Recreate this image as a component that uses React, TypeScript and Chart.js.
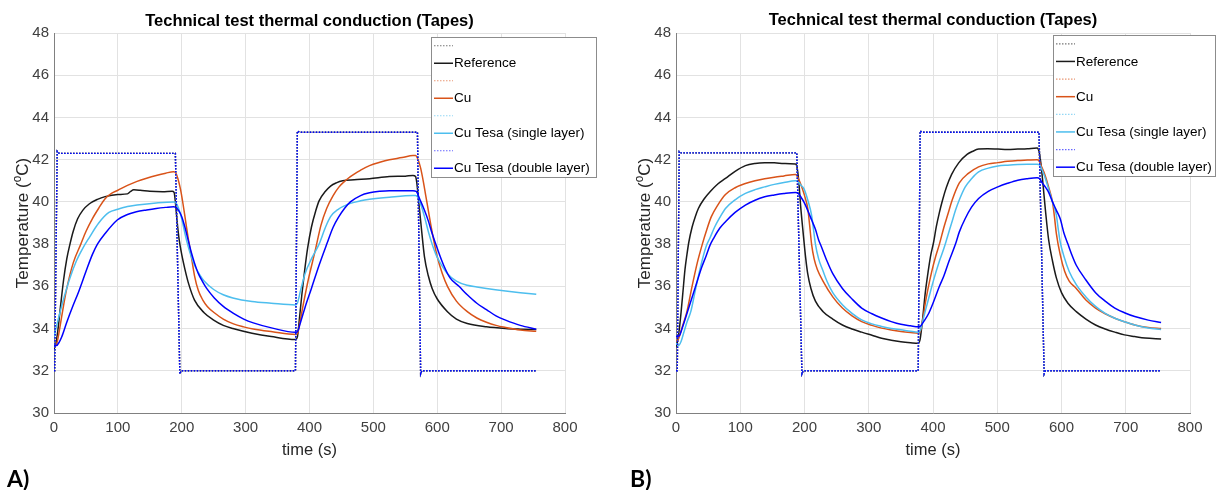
import React, { useEffect, useRef } from "react";
import { Chart, registerables } from "chart.js";
Chart.register(...registerables);

const FONT = "'Liberation Sans', Arial, sans-serif";
const TITLE = "Technical test thermal conduction (Tapes)";
const X_LABEL = "time (s)";
const LEGEND_LABELS = ["", "Reference", "", "Cu", "", "Cu Tesa (single layer)", "", "Cu Tesa (double layer)"];
const SERIES_COLORS = ["#1a1a1a", "#D95319", "#4DBEEE", "#0000FF"];
const X_MIN = 0, X_MAX = 800, X_STEP = 100;
const Y_MIN = 30, Y_MAX = 48, Y_STEP = 2;

// ---------- Panel A ----------
const tSqA = [0, 1, 5, 8, 188, 190, 197, 199, 378, 381, 384, 567, 569, 574, 576, 755];
const vSqA = [32, 32, 42.4, 42.3, 42.3, 42.3, 31.85, 32, 32, 43.35, 43.3, 43.3, 43.3, 31.85, 32, 32];

const tRefA = [0,3,6,10,15,20,25,30,37,45,55,68,80,100,115,120,125,135,150,170,185,188,190,193,196,200,205,210,220,235,250,265,280,310,340,378,381,384,388,393,397,403,410,415,425,433,442,452,470,494,525,550,562,566,568,571,575,580,586,592,600,616,630,647,677,707,730,755];
const vRefA = [33.0,33.3,33.9,35.0,36.3,37.3,38.0,38.6,39.2,39.6,39.9,40.12,40.25,40.35,40.38,40.5,40.57,40.55,40.5,40.48,40.5,40.45,40.0,39.0,38.2,37.5,36.8,36.2,35.35,34.75,34.4,34.15,34.0,33.78,33.62,33.48,33.6,34.4,35.6,36.9,37.8,38.8,39.6,40.05,40.5,40.75,40.9,41.0,41.05,41.1,41.2,41.22,41.25,41.2,40.9,40.0,38.8,37.4,36.5,35.9,35.4,34.8,34.45,34.24,34.08,34.0,33.97,33.95];

const tCuA = [0,3,6,10,15,20,30,42,50,60,70,80,90,100,115,130,145,160,175,187,190,194,198,202,206,210,214,220,226,233,240,251,265,281,297,312,342,378,381,385,390,398,409,418,427,437,446,456,464,480,494,510,525,545,562,566,570,574,578,582,586,590,595,600,608,616,630,647,662,677,692,707,730,755];
const vCuA = [33.2,33.2,33.5,34.2,35.1,35.9,37.1,38.0,38.6,39.2,39.7,40.15,40.4,40.55,40.78,40.97,41.12,41.25,41.36,41.43,41.4,41.1,40.6,39.9,39.1,38.3,37.6,36.5,35.8,35.35,35.05,34.75,34.45,34.22,34.08,33.98,33.85,33.72,33.75,34.3,35.1,36.3,37.7,38.9,39.7,40.3,40.7,41.0,41.2,41.5,41.72,41.88,42.0,42.1,42.2,42.2,42.0,41.6,41.0,40.3,39.6,38.9,38.1,37.4,36.6,36.0,35.3,34.8,34.5,34.3,34.15,34.05,33.93,33.87];

const tSingleA = [0,3,8,15,25,35,45,55,70,86,100,115,130,160,187,190,195,200,205,210,215,220,228,235,250,265,280,310,340,378,381,386,393,403,415,425,433,445,464,480,494,525,562,566,570,575,580,586,592,598,604,616,630,647,662,677,707,730,755];
const vSingleA = [33.6,34.0,34.6,35.4,36.4,37.2,37.8,38.3,39.0,39.5,39.65,39.78,39.85,39.95,40.0,39.98,39.7,39.2,38.5,37.9,37.4,37.0,36.55,36.25,35.85,35.6,35.45,35.28,35.2,35.12,35.2,35.8,36.6,37.3,38.0,38.8,39.3,39.65,39.93,40.05,40.12,40.22,40.3,40.3,40.2,39.8,39.3,38.6,38.0,37.5,37.15,36.6,36.25,36.05,35.97,35.9,35.78,35.7,35.62];

const tDoubleA = [0,4,8,12,20,30,38,50,60,68,80,99,115,129,145,160,175,187,190,195,200,205,210,215,220,226,233,239,251,265,281,297,312,342,378,381,386,393,403,415,427,437,446,455,464,480,494,510,525,562,567,573,580,586,592,600,610,620,634,647,662,677,692,707,730,755];
const vDoubleA = [33.2,33.2,33.35,33.6,34.3,35.1,35.7,36.7,37.5,38.0,38.5,39.14,39.4,39.53,39.62,39.69,39.74,39.77,39.75,39.6,39.3,38.8,38.2,37.6,37.1,36.6,36.2,35.9,35.45,35.05,34.72,34.45,34.27,34.02,33.82,33.85,34.3,35.0,35.9,37.0,38.0,38.8,39.3,39.7,40.0,40.3,40.43,40.5,40.53,40.53,40.5,40.1,39.6,39.1,38.5,37.8,37.0,36.4,36.0,35.6,35.2,34.9,34.6,34.4,34.15,33.97];

// ---------- Panel B ----------
const tSqB = [0, 2, 5, 8, 186, 188, 196, 198, 377, 380, 383, 563, 565, 573, 575, 755];
const vSqB = [32, 32, 42.38, 42.32, 42.32, 42.32, 31.85, 32, 32, 43.36, 43.3, 43.3, 43.3, 31.85, 32, 32];

const tRefB = [0,3,6,8,11,14,17,20,25,30,35,44,53,65,77,92,108,123,138,153,168,186,188,191,194,198,202,205,210,217,229,244,259,274,289,305,320,335,350,365,377,380,384,388,392,396,401,405,410,415,421,429,440,453,462,471,485,501,516,532,547,562,565,568,571,575,580,586,592,600,610,623,638,653,668,683,698,714,730,755];
const vRefB = [33.1,33.5,34.2,34.8,35.8,36.8,37.5,38.1,38.8,39.3,39.7,40.15,40.48,40.85,41.11,41.45,41.72,41.82,41.85,41.85,41.82,41.8,41.7,41.0,39.8,38.5,37.3,36.6,35.9,35.3,34.8,34.45,34.17,33.98,33.83,33.68,33.54,33.45,33.38,33.33,33.3,33.5,34.5,35.7,36.6,37.4,38.1,38.8,39.5,40.1,40.7,41.3,41.85,42.25,42.4,42.5,42.52,42.5,42.48,42.5,42.52,42.55,42.4,41.8,40.9,39.6,38.2,37.2,36.4,35.7,35.2,34.8,34.45,34.17,33.98,33.83,33.7,33.62,33.55,33.51];

const tCuB = [0,3,6,10,17,25,33,41,47,55,65,77,92,108,123,138,153,168,186,188,192,197,201,205,208,211,215,220,229,244,259,274,289,305,320,335,350,365,377,380,384,388,393,398,404,410,417,423,430,441,455,471,486,501,516,532,547,562,565,570,574,580,586,589,592,598,605,612,623,638,653,668,683,698,714,735,755];
const vCuB = [33.4,33.45,33.7,34.1,34.8,36.0,37.1,38.0,38.6,39.3,39.85,40.35,40.67,40.87,41.0,41.1,41.17,41.23,41.3,41.25,41.0,40.6,40.2,39.7,38.9,38.0,37.3,36.8,36.24,35.5,34.97,34.6,34.33,34.15,34.02,33.93,33.86,33.81,33.78,33.85,34.4,35.2,36.0,36.7,37.4,38.0,38.8,39.4,40.1,40.9,41.35,41.66,41.8,41.86,41.92,41.96,41.98,42.0,41.95,41.6,41.3,40.7,40.0,39.3,38.5,37.5,36.7,36.25,35.9,35.35,34.97,34.7,34.49,34.32,34.17,34.05,34.0];

const tSingleB = [0,4,8,12,17,23,30,38,47,53,60,68,77,92,108,123,138,153,168,186,189,194,199,205,211,214,217,222,228,235,244,259,274,289,305,320,335,350,365,377,380,386,393,400,410,417,423,429,435,441,450,460,471,486,501,516,532,547,562,566,570,575,580,586,592,595,598,604,612,623,638,653,668,683,698,714,735,755];
const vSingleB = [33.3,33.2,33.4,33.8,34.3,34.8,35.8,36.9,37.9,38.3,38.8,39.25,39.69,40.1,40.4,40.58,40.71,40.83,40.92,41.0,40.98,40.8,40.63,40.1,39.37,38.7,38.0,37.3,36.8,36.24,35.7,35.13,34.72,34.41,34.22,34.1,34.0,33.94,33.87,33.83,33.9,34.6,35.4,36.2,37.2,37.8,38.4,39.0,39.6,40.1,40.7,41.1,41.42,41.6,41.7,41.74,41.77,41.78,41.78,41.75,41.5,41.1,40.6,40.0,39.37,38.7,38.1,37.4,36.7,36.08,35.5,35.05,34.72,34.49,34.32,34.17,34.03,33.96];

const tDoubleB = [0,3,6,10,20,30,40,47,53,59,68,77,92,108,123,138,153,168,186,190,195,199,205,211,217,222,226,235,244,259,274,289,305,320,335,350,365,377,380,386,393,400,410,417,425,435,441,450,460,471,486,501,516,532,547,562,566,570,575,580,586,592,598,604,610,616,623,638,653,668,683,698,714,735,755];
const vDoubleB = [33.62,33.62,33.7,34.05,35.0,35.95,36.9,37.45,37.95,38.3,38.75,39.06,39.5,39.85,40.08,40.24,40.33,40.4,40.45,40.42,40.2,40.0,39.6,39.15,38.7,38.2,37.9,37.2,36.6,35.9,35.4,34.97,34.7,34.5,34.33,34.2,34.13,34.08,34.1,34.35,34.7,35.2,36.0,36.5,37.2,38.0,38.58,39.2,39.75,40.16,40.5,40.71,40.88,41.03,41.1,41.14,41.1,40.9,40.7,40.45,40.0,39.6,39.2,38.5,38.0,37.5,37.0,36.3,35.7,35.3,34.97,34.75,34.57,34.4,34.29];

type PanelSpec = {
  id: string;
  pageX: number;
  width: number;
  areaLeft: number;
  areaRight: number;
  titleY: number;
  legend: { x: number; y: number; w: number; h: number };
  letter: string;
  letterX: number;
  square: [number[], number[]];
  series: [number[], number[]][];
};

const PANELS: PanelSpec[] = [
  {
    id: "A", pageX: 0, width: 610, areaLeft: 54, areaRight: 565, titleY: 26,
    legend: { x: 431, y: 37, w: 165, h: 140 }, letter: "A)", letterX: 7,
    square: [tSqA, vSqA],
    series: [[tRefA, vRefA], [tCuA, vCuA], [tSingleA, vSingleA], [tDoubleA, vDoubleA]],
  },
  {
    id: "B", pageX: 610, width: 609, areaLeft: 66, areaRight: 580, titleY: 25,
    legend: { x: 443, y: 35, w: 162, h: 141 }, letter: "B)", letterX: 20,
    square: [tSqB, vSqB],
    series: [[tRefB, vRefB], [tCuB, vCuB], [tSingleB, vSingleB], [tDoubleB, vDoubleB]],
  },
];

const toXY = (t: number[], v: number[]) => t.map((x, i) => ({ x, y: v[i] }));

function buildDatasets(p: PanelSpec) {
  const ds: any[] = [];
  for (let k = 0; k < 4; k++) {
    const iDot = 2 * k, iSolid = 2 * k + 1;
    ds.push({
      label: "setpoint " + k,
      data: toXY(p.square[0], p.square[1]),
      borderColor: SERIES_COLORS[k],
      borderWidth: 1.4,
      borderDash: [1.5, 1.5],
      pointRadius: 0,
      tension: 0,
      order: 7 - iDot,
    });
    ds.push({
      label: LEGEND_LABELS[iSolid],
      data: toXY(p.series[k][0], p.series[k][1]),
      borderColor: SERIES_COLORS[k],
      borderWidth: 1.5,
      pointRadius: 0,
      cubicInterpolationMode: "monotone",
      order: 7 - iSolid,
    });
  }
  return ds;
}

function decorPlugin(p: PanelSpec) {
  return {
    id: "decor" + p.id,
    afterDraw(chart: any) {
      const ctx: CanvasRenderingContext2D = chart.ctx;
      const ca = chart.chartArea;
      const cx = (ca.left + ca.right) / 2;
      ctx.save();
      // title
      ctx.fillStyle = "#000";
      ctx.font = `bold 16.5px ${FONT}`;
      ctx.textAlign = "center";
      ctx.textBaseline = "alphabetic";
      ctx.fillText(TITLE, cx, p.titleY);
      // x label
      ctx.fillStyle = "#262626";
      ctx.font = `16.5px ${FONT}`;
      ctx.fillText(X_LABEL, cx, 455);
      // y label with superscript
      ctx.save();
      ctx.translate(ca.left - 26, (ca.top + ca.bottom) / 2);
      ctx.rotate(-Math.PI / 2);
      const f = 17;
      const a = "Temperature (", b = "o", c = "C)";
      ctx.font = `${f}px ${FONT}`;
      const wa = ctx.measureText(a).width;
      const wc = ctx.measureText(c).width;
      ctx.font = `${f * 0.7}px ${FONT}`;
      const wb = ctx.measureText(b).width;
      const x0 = -(wa + wb + wc) / 2;
      ctx.textAlign = "left";
      ctx.font = `${f}px ${FONT}`;
      ctx.fillText(a, x0, 0);
      ctx.font = `${f * 0.7}px ${FONT}`;
      ctx.fillText(b, x0 + wa, -f * 0.4);
      ctx.font = `${f}px ${FONT}`;
      ctx.fillText(c, x0 + wa + wb, 0);
      ctx.restore();
      // legend
      const L = p.legend;
      ctx.fillStyle = "#fff";
      ctx.fillRect(L.x, L.y, L.w, L.h);
      ctx.strokeStyle = "#8c8c8c";
      ctx.lineWidth = 1;
      ctx.setLineDash([]);
      ctx.strokeRect(L.x + 0.5, L.y + 0.5, L.w, L.h);
      const rowH = L.h / 8;
      for (let i = 0; i < 8; i++) {
        const cy = L.y + rowH * (i + 0.5);
        const col = SERIES_COLORS[Math.floor(i / 2)];
        const dotted = i % 2 === 0;
        ctx.strokeStyle = col;
        ctx.globalAlpha = dotted ? 0.6 : 1;
        ctx.lineWidth = dotted ? 1.2 : 1.5;
        ctx.setLineDash(dotted ? [1.5, 1.5] : []);
        ctx.beginPath();
        ctx.moveTo(L.x + 3, cy);
        ctx.lineTo(L.x + 22, cy);
        ctx.stroke();
        ctx.globalAlpha = 1;
        ctx.setLineDash([]);
        if (LEGEND_LABELS[i]) {
          ctx.fillStyle = "#000";
          ctx.font = `13.5px ${FONT}`;
          ctx.textAlign = "left";
          ctx.textBaseline = "middle";
          ctx.fillText(LEGEND_LABELS[i], L.x + 23, cy + 0.5);
        }
      }
      // panel letter
      ctx.fillStyle = "#000";
      ctx.font = `bold 23px Lato, 'Open Sans', sans-serif`;
      ctx.textAlign = "left";
      ctx.textBaseline = "alphabetic";
      ctx.fillText(p.letter, p.letterX, 487);
      ctx.restore();
    },
  };
}

function ChartPanel({ p }: { p: PanelSpec }) {
  const ref = useRef<HTMLCanvasElement>(null);
  useEffect(() => {
    const chart = new Chart(ref.current as HTMLCanvasElement, {
      type: "line",
      data: { datasets: buildDatasets(p) },
      options: {
        responsive: false,
        animation: false,
        devicePixelRatio: 1,
        layout: { padding: { left: 0, right: p.width - p.areaRight, top: 33, bottom: 0 } },
        plugins: { legend: { display: false }, tooltip: { enabled: false }, title: { display: false } },
        scales: {
          x: {
            type: "linear",
            min: X_MIN,
            max: X_MAX,
            ticks: { stepSize: X_STEP, color: "#404040", font: { family: FONT, size: 15 }, padding: 6, maxRotation: 0 },
            grid: { color: "#e2e2e2", drawTicks: false },
            border: { color: "#808080", width: 1 },
            afterFit: (s: any) => { s.height = 77; },
          },
          y: {
            type: "linear",
            min: Y_MIN,
            max: Y_MAX,
            ticks: { stepSize: Y_STEP, color: "#404040", font: { family: FONT, size: 15 }, padding: 5 },
            grid: { color: "#e2e2e2", drawTicks: false },
            border: { color: "#808080", width: 1 },
            afterFit: (s: any) => { s.width = p.areaLeft; },
          },
        },
      } as any,
      plugins: [decorPlugin(p)],
    });
    return () => chart.destroy();
  }, []);
  return (
    <canvas
      ref={ref}
      width={p.width}
      height={490}
      style={{ position: "absolute", left: p.pageX, top: 0, width: p.width, height: 490 }}
    />
  );
}

export default function App() {
  return (
    <div style={{ position: "absolute", left: 0, top: 0, width: 1219, height: 490, background: "#fff" }}>
      {PANELS.map((p) => (
        <ChartPanel key={p.id} p={p} />
      ))}
    </div>
  );
}
